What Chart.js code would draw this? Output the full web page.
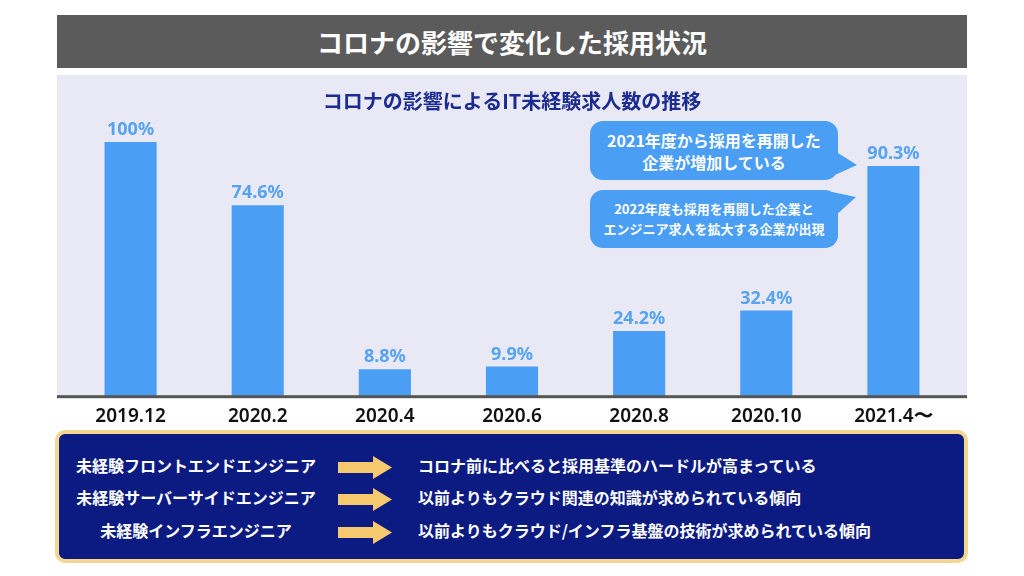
<!DOCTYPE html>
<html lang="ja">
<head>
<meta charset="utf-8">
<script src="https://cdn.jsdelivr.net/npm/chart.js@4/dist/chart.umd.min.js"></script>
<style>
  body{ margin:0; width:1024px; height:576px; background:#fff; position:relative; overflow:hidden;
        font-family:"Noto Sans CJK JP","Noto Sans",sans-serif; }
  #header{ position:absolute; left:57px; top:15px; width:910px; height:53px; background:#5b5b5b;
           color:#fff; font-size:26px; font-weight:700; text-align:center; line-height:53px; }
  #chartWrap{ position:absolute; left:57px; top:75px; width:910px; height:362px; }
  #title{ position:absolute; left:57px; top:86px; width:910px; text-align:center; color:#1c2b8f;
          font-size:20px; font-weight:700; line-height:30px; }
  .bubble{ position:absolute; left:590px; width:248px; background:#4a9ef3; color:#fff; border-radius:13px;
           font-weight:700; text-align:center; display:flex; flex-direction:column; justify-content:center; }
  #b1{ top:121px; height:59px; font-size:16px; line-height:22px; }
  #b2{ top:190px; height:58px; font-size:13px; line-height:20px; }
  #tails{ position:absolute; left:0; top:0; }
  #box{ position:absolute; left:55px; top:430px; width:913px; height:133px; box-sizing:border-box;
        border:4px solid #f4d690; border-radius:10px; background:#0c1b82; }
  .row{ position:absolute; color:#fff; font-size:16px; font-weight:700; line-height:22px; white-space:nowrap; }
  .left{ left:66px; width:260px; text-align:center; }
  .right{ left:418px; }
</style>
</head>
<body>
<div id="header">コロナの影響で変化した採用状況</div>
<div id="chartWrap"><canvas id="chart" width="910" height="362"></canvas></div>
<div id="title">コロナの影響によるIT未経験求人数の推移</div>

<div id="box"></div>
<svg id="tails" width="1024" height="576">
  <polygon points="830,148 857,165 826,179" fill="#4a9ef3"/>
  <polygon points="832,192 856,197 834,217" fill="#4a9ef3"/>
  <polygon points="338,462 373,462 373,456 392,467.5 373,479 373,473 338,473" fill="#f6c96e"/>
  <polygon points="338,494 373,494 373,488 392,499.5 373,511 373,505 338,505" fill="#f6c96e"/>
  <polygon points="338,527 373,527 373,521 392,532.5 373,544 373,538 338,538" fill="#f6c96e"/>
</svg>
<div class="bubble" id="b1"><div>2021年度から採用を再開した</div><div>企業が増加している</div></div>
<div class="bubble" id="b2"><div>2022年度も採用を再開した企業と</div><div>エンジニア求人を拡大する企業が出現</div></div>

<div class="row left" style="top:454px;">未経験フロントエンドエンジニア</div>
<div class="row right" style="top:454px;">コロナ前に比べると採用基準のハードルが高まっている</div>
<div class="row left" style="top:486px;">未経験サーバーサイドエンジニア</div>
<div class="row right" style="top:486px;">以前よりもクラウド関連の知識が求められている傾向</div>
<div class="row left" style="top:519px;">未経験インフラエンジニア</div>
<div class="row right" style="top:519px;">以前よりもクラウド/インフラ基盤の技術が求められている傾向</div>

<script>
const categories = ['2019.12','2020.2','2020.4','2020.6','2020.8','2020.10','2021.4〜'];
const values = [100, 74.6, 8.8, 9.9, 24.2, 32.4, 90.3];

const barColor = '#4a9ff5';

// panel background, baseline and value labels
const panelPlugin = {
  id:'panel',
  beforeDraw(chart){
    const {ctx, chartArea, width} = chart;
    ctx.save();
    ctx.fillStyle = '#e8e9f4';
    ctx.fillRect(0, 0, width, chartArea.bottom);
    ctx.restore();
  },
  afterDatasetsDraw(chart){
    const {ctx, chartArea, width} = chart;
    ctx.save();
    ctx.fillStyle = '#555555';
    ctx.fillRect(0, chartArea.bottom - 1, width, 3);
    ctx.fillStyle = '#55a3f2';
    ctx.font = '700 18px "Noto Sans", sans-serif';
    ctx.textAlign = 'center';
    ctx.textBaseline = 'middle';
    chart.getDatasetMeta(0).data.forEach((bar, i) => {
      ctx.fillText(values[i] + '%', bar.x, bar.y - 12);
    });
    ctx.restore();
  }
};

new Chart(document.getElementById('chart').getContext('2d'), {
  type:'bar',
  data:{ labels:categories, datasets:[{ data:values, backgroundColor:barColor, base:-2,
         categoryPercentage:0.5, barPercentage:0.82 }] },
  options:{
    responsive:false, animation:false,
    layout:{ padding:{ left:10, right:10, top:40, bottom:0 } },
    plugins:{ legend:{display:false}, tooltip:{enabled:false} },
    scales:{
      x:{ grid:{display:false, drawTicks:false}, border:{display:false},
          ticks:{ color:'#111', padding:9, font:{ family:'"Noto Sans", sans-serif', size:19, weight:'600' } } },
      y:{ display:false, min:-2, max:110.8 }
    }
  },
  plugins:[panelPlugin]
});
</script>
</body>
</html>
